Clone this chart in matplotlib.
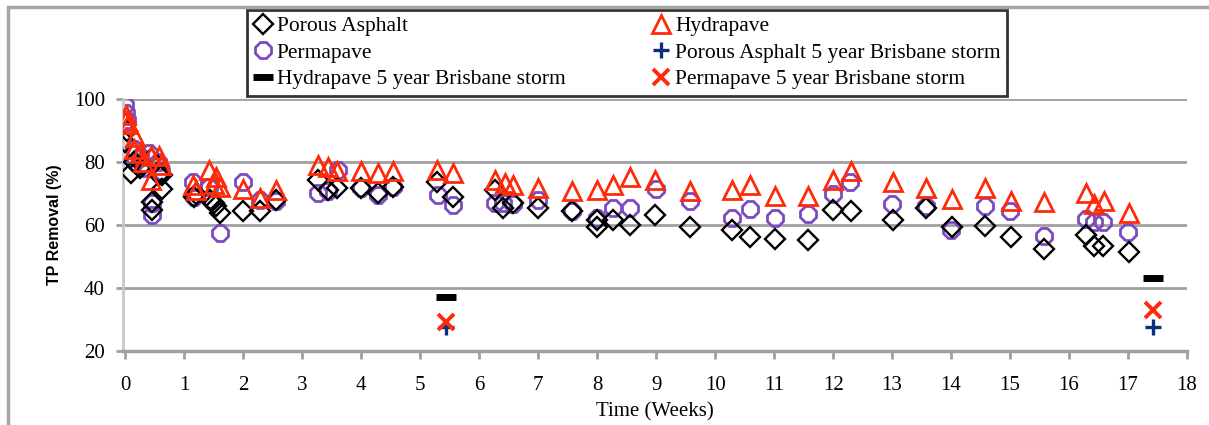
import matplotlib
matplotlib.use("Agg")
import matplotlib.pyplot as plt
from matplotlib.patches import Rectangle

plt.rcParams['font.family'] = ['Liberation Serif', 'DejaVu Serif']

# Datos (semanas, % de remocion de TP)
pa_x = [0.0, 0.03, 0.1, 0.14, 0.25, 0.3, 0.43, 0.45, 0.45, 0.57, 0.63, 0.63,
        1.17, 1.2, 1.43, 1.5, 1.54, 1.6, 2.0, 2.28, 2.55, 3.27, 3.44, 3.59,
        4.0, 4.29, 4.54, 5.28, 5.56, 6.27, 6.41, 6.58, 7.0, 7.57, 7.99, 8.0,
        8.27, 8.56, 8.98, 9.57, 10.29, 10.59, 11.02, 11.58, 12.0, 12.3, 13.01,
        13.58, 14.01, 14.58, 15.01, 15.57, 16.29, 16.43, 16.58, 17.01]
pa_y = [86.5, 90, 76.5, 80, 78, 79, 81, 67.4, 64.7, 76, 71.4, 76,
        69, 70, 68, 67, 65.9, 63.7, 64.3, 64.3, 68, 74.3, 71.2, 71.7,
        71.7, 70.1, 72.2, 73.8, 69, 71.2, 65.3, 66.9, 65.3, 64.3, 59.5, 61.6,
        61.6, 60, 63.2, 59.5, 58.4, 56.3, 55.5, 55.3, 64.8, 64.6, 61.6,
        65.3, 59.5, 59.7, 56.3, 52.3, 56.9, 53.4, 53.4, 51.5]

hy_x = [0.0, 0.02, 0.04, 0.16, 0.14, 0.25, 0.3, 0.43, 0.44, 0.57, 0.6,
        1.15, 1.2, 1.42, 1.5, 1.54, 1.6, 2.0, 2.28, 2.56, 3.27, 3.44, 3.59,
        4.0, 4.29, 4.54, 5.28, 5.56, 6.27, 6.43, 6.58, 7.0, 7.57, 7.99,
        8.27, 8.56, 8.98, 9.58, 10.29, 10.59, 11.02, 11.58, 12.0, 12.3,
        13.01, 13.58, 14.01, 14.58, 15.01, 15.57, 16.29, 16.43, 16.59, 17.01]
hy_y = [93, 95, 92, 88, 84, 83, 80, 82, 74.3, 81.8, 79,
        72.7, 71, 77.5, 73, 75.4, 72, 71.5, 68.5, 71.2, 79.1, 78.5, 77,
        77, 76.5, 77, 77.5, 76.5, 74.3, 73.3, 72.8, 71.7, 70.7, 71.2,
        72.8, 75.4, 74.3, 70.7, 71.2, 72.8, 69.1, 69.1, 74.3, 77,
        73.8, 71.7, 68.3, 71.7, 67.5, 67.2, 70.1, 66.7, 67.5, 63.8]

pe_x = [0.0, 0.01, 0.03, 0.14, 0.16, 0.25, 0.3, 0.4, 0.45, 0.45, 0.55, 0.6,
        1.15, 1.17, 1.42, 1.45, 1.6, 2.0, 2.28, 2.56, 3.27, 3.44, 3.6,
        4.0, 4.29, 4.54, 5.3, 5.56, 6.27, 6.41, 6.58, 7.0, 7.57, 7.99,
        8.27, 8.56, 8.99, 9.57, 10.29, 10.59, 11.01, 11.57, 12.0, 12.28,
        13.0, 13.57, 14.0, 14.57, 15.0, 15.57, 16.29, 16.43, 16.58, 17.0]
pe_y = [98.1, 95.5, 93.4, 84, 80, 82, 78, 83, 66.9, 63.2, 80, 77,
        73.8, 69, 72, 68, 57.4, 73.8, 68, 67.5, 70.1, 70.7, 77.5,
        71.7, 69.6, 72.2, 69.6, 66.4, 66.9, 66.9, 66.7, 68, 64.3, 62.1,
        65.3, 65.3, 71.4, 67.5, 62.1, 65, 62.1, 63.4, 69.9, 73.8,
        66.7, 66.1, 58.4, 66, 64.3, 56.5, 62, 60.9, 60.9, 57.9]

storm_x = [5.43, 17.42]
pa_storm = [27.5, 27.7]
hy_storm = [37.2, 43.3]
pe_storm = [29.3, 33]

fig = plt.figure(figsize=(12.09, 4.25), dpi=100)
ax = fig.add_axes([0.1017, 0.174, 0.8801, 0.593])

# borde exterior gris del area del grafico
fig.patches.append(Rectangle((0.0065, -0.1), 1.2, 1.083, transform=fig.transFigure,
                             fill=False, edgecolor='#a6a6a6', linewidth=2.5))

for g in [40, 60, 80, 100]:
    ax.axhline(g, color='#a0a0a0', lw=2, zorder=0)

h_pa, = ax.plot(pa_x, pa_y, ls='none', marker='D', ms=10, mfc='none',
                mec='black', mew=1.7, label='Porous Asphalt', zorder=3)
h_pe, = ax.plot(pe_x, pe_y, ls='none', marker='8', ms=12.5, mfc='none',
                mec='#7b4bbf', mew=2, label='Permapave', zorder=2)
h_hy, = ax.plot(hy_x, hy_y, ls='none', marker='^', ms=12.5, mfc='none',
                mec='#ff2a0a', mew=2, label='Hydrapave', zorder=4)
h_hs, = ax.plot(storm_x, hy_storm, ls='none', marker='_', ms=15, mew=5,
                color='black', label='Hydrapave 5 year Brisbane storm', zorder=5)
h_ps, = ax.plot(storm_x, pa_storm, ls='none', marker='+', ms=11, mew=2.4,
                color='#0b2f7a', label='Porous Asphalt 5 year Brisbane storm', zorder=5)
h_xs, = ax.plot(storm_x, pe_storm, ls='none', marker='x', ms=11, mew=2.8,
                color='#ff2a0a', label='Permapave 5 year Brisbane storm', zorder=6)

ax.set_xlim(-0.04, 18)
ax.set_ylim(20, 100)
ax.set_xticks(range(0, 19))
ax.set_yticks([20, 40, 60, 80, 100])

for s in ['top', 'right']:
    ax.spines[s].set_visible(False)
ax.spines['left'].set_color('#c8c8c8')
ax.spines['left'].set_linewidth(2)
ax.spines['bottom'].set_color('#a0a0a0')
ax.spines['bottom'].set_linewidth(2.5)
ax.tick_params(axis='x', direction='out', length=6, width=2, color='#a0a0a0',
               labelsize=15, pad=12)
ax.tick_params(axis='y', direction='out', length=5, width=2, color='#a0a0a0',
               labelsize=15, pad=8)

ax.set_ylabel('TP Removal (%)', fontsize=11.5, fontweight='bold',
              family=['Liberation Sans', 'DejaVu Sans'])
ax.yaxis.set_label_coords(-0.057, 0.5)
ax.set_xlabel('Time (Weeks)', fontsize=15)
ax.xaxis.set_label_coords(0.5, -0.205)

leg = ax.legend(handles=[h_pa, h_pe, h_hs, h_hy, h_ps, h_xs], ncol=2,
                loc='upper left', bbox_to_anchor=(0.204, 0.977),
                bbox_transform=fig.transFigure, fontsize=15.5,
                frameon=True, fancybox=False, edgecolor='black',
                handlelength=0.9, handletextpad=0.2, borderpad=0.3,
                labelspacing=0.3, borderaxespad=0, columnspacing=4.0)
leg.get_frame().set_linewidth(2)

fig.savefig('out.png', dpi=100)
